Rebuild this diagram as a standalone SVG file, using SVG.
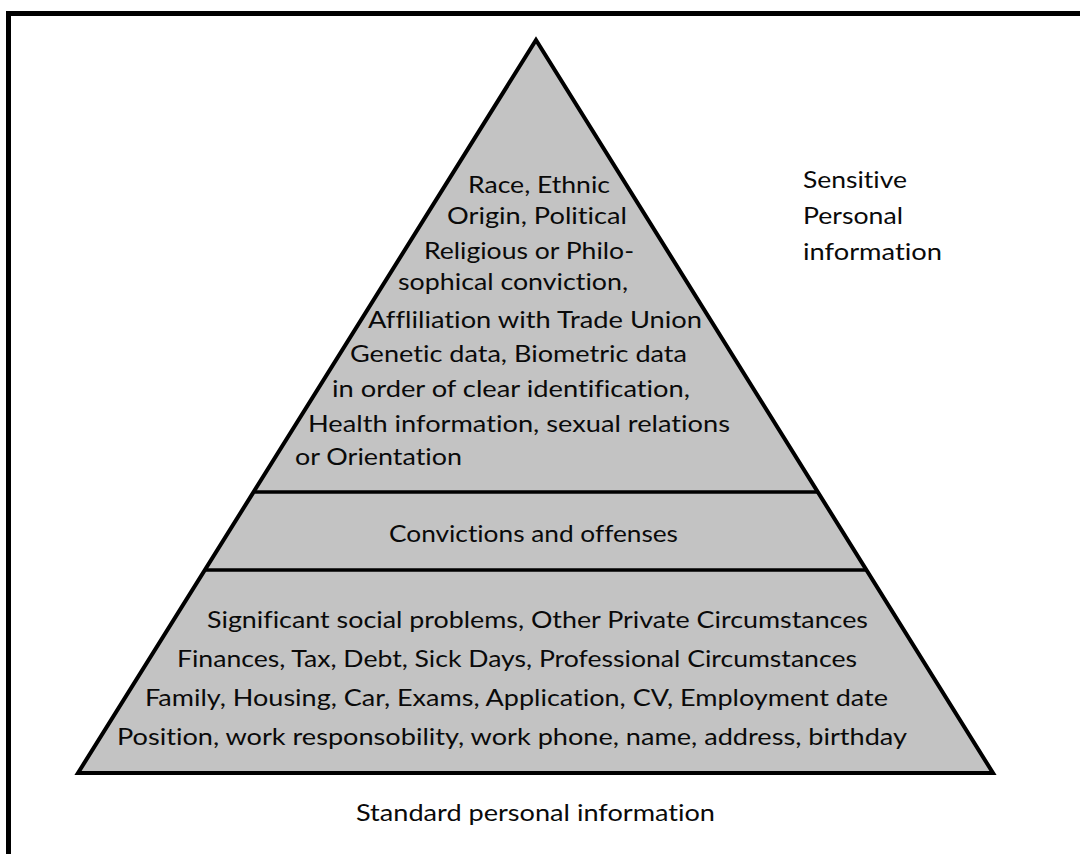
<svg xmlns="http://www.w3.org/2000/svg" width="1080" height="854" viewBox="0 0 1080 854">
<style>
.t{font-family:Lato,"Liberation Sans",sans-serif;font-size:22.5px;fill:#0a0a0a;font-variant-ligatures:none;font-feature-settings:"liga" 0,"clig" 0}
.div{stroke:#000;stroke-width:3.5;fill:none}
</style>
<rect width="1080" height="854" fill="#fff"/>
<path d="M8.5,854 V13.5 H1080" fill="none" stroke="#000" stroke-width="5"/>
<g id="pyramid">
<polygon points="536,40 993,773 78,773" fill="#c3c3c3" stroke="#000" stroke-width="4" stroke-linejoin="miter"/>
<line class="div" x1="255" y1="492" x2="817" y2="492"/>
<line class="div" x1="206" y1="570" x2="866" y2="570"/>
</g>
<g id="tier-sensitive">
<text class="t" x="468" y="193" textLength="142" lengthAdjust="spacingAndGlyphs">Race, Ethnic</text>
<text class="t" x="447" y="224" textLength="180" lengthAdjust="spacingAndGlyphs">Origin, Political</text>
<text class="t" x="424" y="259" textLength="210" lengthAdjust="spacingAndGlyphs">Religious or Philo-</text>
<text class="t" x="398" y="290" textLength="230" lengthAdjust="spacingAndGlyphs">sophical conviction,</text>
<text class="t" x="368" y="328" textLength="334" lengthAdjust="spacingAndGlyphs">Affliliation with Trade Union</text>
<text class="t" x="350" y="362" textLength="337" lengthAdjust="spacingAndGlyphs">Genetic data, Biometric data</text>
<text class="t" x="332" y="397" textLength="358" lengthAdjust="spacingAndGlyphs">in order of clear identification,</text>
<text class="t" x="308" y="432" textLength="422" lengthAdjust="spacingAndGlyphs">Health information, sexual relations</text>
<text class="t" x="295" y="465" textLength="167" lengthAdjust="spacingAndGlyphs">or Orientation</text>
</g>
<g id="tier-convictions">
<text class="t" x="389" y="542" textLength="289" lengthAdjust="spacingAndGlyphs">Convictions and offenses</text>
</g>
<g id="tier-standard">
<text class="t" x="207" y="628" textLength="661" lengthAdjust="spacingAndGlyphs">Significant social problems, Other Private Circumstances</text>
<text class="t" x="177" y="667" textLength="680" lengthAdjust="spacingAndGlyphs">Finances, Tax, Debt, Sick Days, Professional Circumstances</text>
<text class="t" x="145" y="706" textLength="743" lengthAdjust="spacingAndGlyphs">Family, Housing, Car, Exams, Application, CV, Employment date</text>
<text class="t" x="117" y="745" textLength="790" lengthAdjust="spacingAndGlyphs">Position, work responsobility, work phone, name, address, birthday</text>
</g>
<g id="label-sensitive">
<text class="t" x="803" y="188" textLength="104" lengthAdjust="spacingAndGlyphs">Sensitive</text>
<text class="t" x="803" y="224" textLength="100" lengthAdjust="spacingAndGlyphs">Personal</text>
<text class="t" x="803" y="260" textLength="139" lengthAdjust="spacingAndGlyphs">information</text>
</g>
<g id="label-standard">
<text class="t" x="356" y="821" textLength="359" lengthAdjust="spacingAndGlyphs">Standard personal information</text>
</g>
<g id="connectors"/>
</svg>
